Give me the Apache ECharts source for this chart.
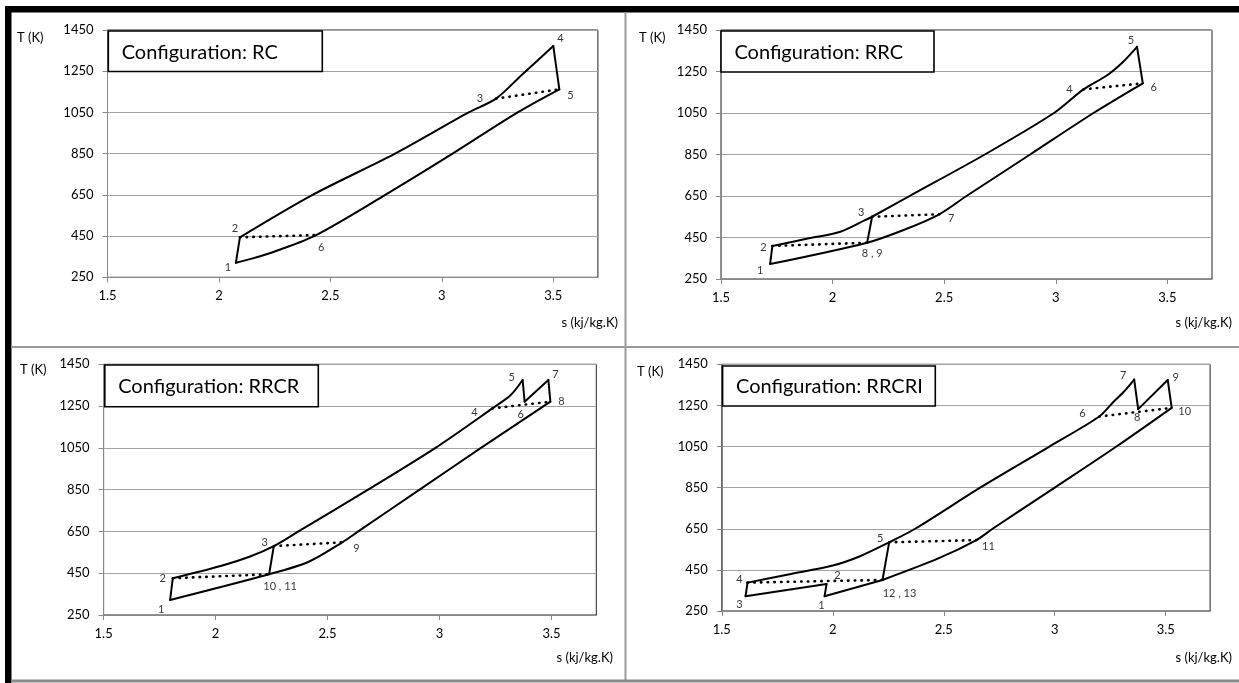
<!DOCTYPE html>
<html>
<head>
<meta charset="utf-8">
<title>T-s diagrams</title>
<script src="https://cdn.jsdelivr.net/npm/echarts@6/dist/echarts.min.js"></script>
<style>
  html, body { margin: 0; padding: 0; background: #fff; }
  #chart { width: 1239px; height: 683px; }
</style>
</head>
<body>
<div id="chart"></div>
<script>
// ---- axis ticks ----
const sTicks = [1.5, 2, 2.5, 3, 3.5]
const sMax = 3.7
const tTicks = [250, 450, 650, 850, 1050, 1250, 1450]
const T0 = tTicks[0]

// ---- RC ----
const rcStates = [['1', 2.076, 321], ['2', 2.094, 444], ['3', 3.243, 1117], ['4', 3.5, 1372], ['5', 3.527, 1162], ['6', 2.436, 455]]
const rcUpper = [[2.094, 444], [2.42, 650], [2.79, 850], [3.12, 1050], [3.243, 1117], [3.358, 1232], [3.5, 1372]]
const rcLower = [[3.527, 1162], [3.34, 1050], [3.048, 850], [2.746, 650], [2.436, 455], [2.259, 379], [2.152, 342], [2.076, 321]]
const rcSolid = [['1', '2'], ['4', '5']]
const rcDotted = [['2', '6'], ['3', '5']]

// ---- RRC ----
const rrcStates = [['1', 1.72, 322], ['2', 1.73, 409], ['3', 2.177, 550], ['4', 3.124, 1164], ['5', 3.364, 1369], ['6', 3.39, 1193], ['7', 2.478, 562], ['8 , 9', 2.155, 425]]
const rrcUpper = [[1.73, 409], [1.893, 446], [2.035, 478], [2.141, 531], [2.177, 550], [2.345, 650], [2.682, 850], [2.992, 1050], [3.124, 1164], [3.23, 1232], [3.3, 1295], [3.364, 1369]]
const rrcLower = [[3.39, 1193], [3.169, 1050], [2.885, 850], [2.6, 650], [2.478, 562], [2.318, 486], [2.155, 425], [1.72, 322]]
const rrcSolid = [['1', '2'], ['5', '6'], ['8 , 9', '3']]
const rrcDotted = [['2', '8 , 9'], ['3', '7'], ['4', '6']]

// ---- RRCR ----
const rrcrStates = [['1', 1.797, 322], ['2', 1.809, 426], ['3', 2.26, 580], ['4', 3.236, 1239], ['5', 3.371, 1375], ['6', 3.38, 1271], ['7', 3.486, 1375], ['8', 3.495, 1271], ['9', 2.566, 598], ['10 , 11', 2.239, 445]]
const rrcrUpper = [[1.809, 426], [2.027, 486], [2.151, 529], [2.26, 580], [2.37, 650], [2.681, 850], [2.982, 1050], [3.236, 1239], [3.318, 1303], [3.371, 1375]]
const rrcrLower = [[3.495, 1271], [3.185, 1050], [2.911, 850], [2.637, 650], [2.566, 598], [2.416, 505], [2.239, 445], [1.797, 322]]
const rrcrSolid = [['1', '2'], ['5', '6'], ['6', '7'], ['7', '8'], ['10 , 11', '3']]
const rrcrDotted = [['2', '10 , 11'], ['3', '9'], ['4', '8']]

// ---- RRCRI ----
const rrcriStates = [['1', 1.963, 322], ['2', 1.972, 381], ['3', 1.607, 322], ['4', 1.616, 388], ['5', 2.254, 584], ['6', 3.201, 1196], ['7', 3.358, 1376], ['8', 3.376, 1232], ['9', 3.509, 1374], ['10', 3.527, 1238], ['11', 2.647, 595], ['12 , 13', 2.224, 401]]
const rrcriUpper = [[1.616, 388], [1.8, 428], [2.0, 471], [2.12, 515], [2.254, 584], [2.371, 650], [2.664, 850], [2.976, 1050], [3.201, 1196], [3.26, 1262], [3.31, 1315], [3.358, 1376]]
const rrcriLower = [[3.527, 1238], [3.278, 1050], [3.0, 850], [2.72, 650], [2.647, 595], [2.478, 507], [2.224, 401]]
const rrcriSolid = [['12 , 13', '1'], ['1', '2'], ['2', '3'], ['3', '4'], ['7', '8'], ['8', '9'], ['9', '10'], ['12 , 13', '5']]
const rrcriDotted = [['4', '12 , 13'], ['5', '11'], ['6', '10']]

// 状态点编号的像素偏移
const rcOffsets = {'1': [-8, 5], '2': [-5, -9], '3': [-16, 0], '4': [7, -8], '5': [11, 6], '6': [5, 12]}
const rrcOffsets = {'1': [-10, 6], '2': [-9, 1], '3': [-11, -4], '4': [-14, 0], '5': [-6, -6], '6': [11, 4], '7': [12, 4], '8 , 9': [5, 11]}
const rrcrOffsets = {'1': [-9, 9], '2': [-10, 0], '3': [-9, -4], '4': [-18, 4], '5': [-11, -3], '6': [-4, 13], '7': [7, -6], '8': [11, 0], '9': [14, 6], '10 , 11': [11, 12]}
const rrcriOffsets = {'1': [-3, 9], '2': [11, -9], '3': [-6, 8], '4': [-8, -3], '5': [-9, -4], '6': [-17, -3], '7': [-11, -4], '8': [-1, 8], '9': [8, -2], '10': [13, 4], '11': [12, 6], '12 , 13': [17, 13]}

const FONT = 'Lato, "Open Sans", sans-serif'

// 面板布局（像素）
const panels = [
  {grid: {left: 107.5, top: 30, width: 490.4, height: 247.3}, title: 'Configuration: RC', box: [108.3, 31, 214, 40.5], tk: [17, 38], sk: [618, 323],
    states: rcStates, upper: rcUpper, lower: rcLower, solid: rcSolid, dotted: rcDotted, offsets: rcOffsets},
  {grid: {left: 721, top: 30, width: 491, height: 249}, title: 'Configuration: RRC', box: [721, 31, 213, 41], tk: [639, 38], sk: [1232, 323],
    states: rrcStates, upper: rrcUpper, lower: rrcLower, solid: rrcSolid, dotted: rrcDotted, offsets: rrcOffsets},
  {grid: {left: 103.6, top: 364.3, width: 492.7, height: 250.7}, title: 'Configuration: RRCR', box: [104.8, 365, 213.5, 41.7], tk: [20, 370], sk: [613, 657.7],
    states: rrcrStates, upper: rrcrUpper, lower: rrcrLower, solid: rrcrSolid, dotted: rrcrDotted, offsets: rrcrOffsets},
  {grid: {left: 721.8, top: 364.3, width: 488.3, height: 246.7}, title: 'Configuration: RRCRI', box: [722.6, 366, 212.7, 40], tk: [637, 372], sk: [1232, 657.7],
    states: rrcriStates, upper: rrcriUpper, lower: rrcriLower, solid: rrcriSolid, dotted: rrcriDotted, offsets: rrcriOffsets}
]

const toXY = (p) => [p[0], p[1] - T0]

const lineSeries = (idx, pts, smooth, dotted) => ({
  type: 'line',
  xAxisIndex: idx,
  yAxisIndex: idx,
  data: pts.map(toXY),
  symbol: 'none',
  smooth: smooth,
  silent: true,
  z: dotted ? 3 : 4,
  lineStyle: dotted
    ? {color: '#000', width: 2.6, type: [0.5, 6.2], cap: 'round'}
    : {color: '#000', width: 2, cap: 'round', join: 'round'}
})

const series = []
const grids = []
const xAxes = []
const yAxes = []
const graphics = []

panels.forEach((pn, i) => {
  const byName = {}
  pn.states.forEach(s => { byName[s[0]] = [s[1], s[2]] })

  grids.push({...pn.grid, show: true, borderColor: '#222', borderWidth: 1, containLabel: false})

  xAxes.push({
    gridIndex: i, type: 'value',
    min: sTicks[0], max: sMax, interval: sTicks[1] - sTicks[0],
    axisLine: {lineStyle: {color: '#888', width: 1}},
    axisTick: {show: true, length: 5, lineStyle: {color: '#888'}},
    axisLabel: {fontSize: 13, color: '#000', fontFamily: FONT, margin: 12, showMaxLabel: false},
    splitLine: {show: false}
  })
  yAxes.push({
    gridIndex: i, type: 'value',
    min: 0, max: tTicks[tTicks.length - 1] - T0, interval: tTicks[1] - tTicks[0],
    axisLine: {show: true, lineStyle: {color: '#888', width: 1}},
    axisTick: {show: true, length: 5, lineStyle: {color: '#888'}},
    axisLabel: {fontSize: 13, color: '#000', fontFamily: FONT, margin: 14, formatter: v => String(v + T0)},
    splitLine: {show: true, lineStyle: {color: '#a3a3a3', width: 1}}
  })

  series.push(lineSeries(i, pn.upper, 0.3, false))
  series.push(lineSeries(i, pn.lower, 0.3, false))
  pn.solid.forEach(([a, b]) => series.push(lineSeries(i, [byName[a], byName[b]], false, false)))
  pn.dotted.forEach(([a, b]) => series.push(lineSeries(i, [byName[a], byName[b]], false, true)))

  series.push({
    type: 'scatter', xAxisIndex: i, yAxisIndex: i, silent: true, z: 6,
    symbolSize: 1, itemStyle: {color: 'rgba(0,0,0,0)'},
    label: {show: true, position: 'inside', formatter: '{b}', fontSize: 11, color: '#000', fontFamily: FONT},
    data: pn.states.map(s => ({name: s[0], value: toXY([s[1], s[2]]), label: {offset: pn.offsets[s[0]] || [0, 0]}}))
  })

  const [bx, by, bw, bh] = pn.box
  graphics.push({type: 'rect', z: 100, shape: {x: bx, y: by, width: bw, height: bh}, style: {fill: '#fff', stroke: '#000', lineWidth: 1.6}})
  graphics.push({type: 'text', z: 101, style: {text: pn.title, x: bx + 13.4, y: by + bh / 2 + 1, font: '20px ' + FONT, fill: '#000', textVerticalAlign: 'middle'}})
  graphics.push({type: 'text', z: 101, style: {text: 'T (K)', x: pn.tk[0], y: pn.tk[1], font: '13px ' + FONT, fill: '#000', textVerticalAlign: 'middle'}})
  graphics.push({type: 'text', z: 101, style: {text: 's (kj/kg.K)', x: pn.sk[0], y: pn.sk[1], font: '13px ' + FONT, fill: '#000', textAlign: 'right', textVerticalAlign: 'middle'}})
})

// 外框与分隔线
graphics.push({type: 'rect', z: 90, shape: {x: 6, y: 6, width: 1233, height: 6.5}, style: {fill: '#000'}})
graphics.push({type: 'rect', z: 90, shape: {x: 5, y: 6, width: 6.5, height: 677}, style: {fill: '#000'}})
graphics.push({type: 'rect', z: 90, shape: {x: 624.5, y: 12, width: 2, height: 668}, style: {fill: '#9a9a9a'}})
graphics.push({type: 'rect', z: 90, shape: {x: 11, y: 346, width: 1228, height: 2}, style: {fill: '#9a9a9a'}})
graphics.push({type: 'rect', z: 90, shape: {x: 11, y: 679.5, width: 1228, height: 3}, style: {fill: '#8a8a8a'}})

const chart = echarts.init(document.getElementById('chart'))
chart.setOption({
  animation: false,
  backgroundColor: '#fff',
  grid: grids,
  xAxis: xAxes,
  yAxis: yAxes,
  series: series,
  graphic: graphics
})
</script>
</body>
</html>
